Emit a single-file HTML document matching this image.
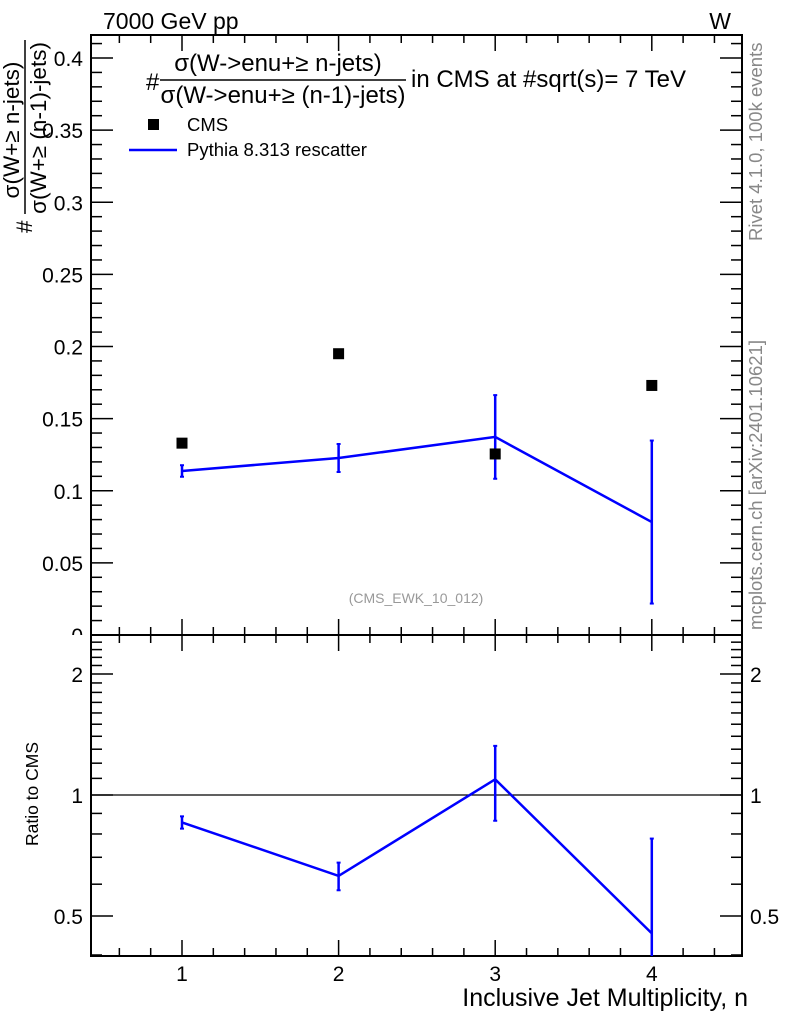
<!DOCTYPE html>
<html><head><meta charset="utf-8"><style>
html,body{margin:0;padding:0;background:#fff}
svg{display:block;font-family:"Liberation Sans",sans-serif}
</style></head><body>
<svg id="c" width="786" height="1024" viewBox="0 0 786 1024">
<defs><clipPath id="mainclip"><rect x="0" y="0" width="786" height="635"/></clipPath></defs>
<g>
<text x="103" y="29" font-size="23">7000 GeV pp</text>
<text x="731" y="29" font-size="23" text-anchor="end">W</text>
</g>
<g font-size="22.5">
<text transform="translate(32,233) rotate(-90)">#</text>
<text transform="translate(19,130) rotate(-90)" text-anchor="middle">σ(W+≥ n-jets)</text>
<line x1="25" y1="40" x2="25" y2="214" stroke="#000" stroke-width="1.5"/>
<text transform="translate(46,128) rotate(-90)" text-anchor="middle">σ(W+≥ (n-1)-jets)</text>
</g>
<g font-size="24">
<text x="146" y="90">#</text>
<text x="278" y="71" text-anchor="middle">σ(W-&gt;enu+≥ n-jets)</text>
<line x1="160" y1="80" x2="406" y2="80" stroke="#000" stroke-width="1.5"/>
<text x="283" y="103" text-anchor="middle">σ(W-&gt;enu+≥ (n-1)-jets)</text>
<text x="411" y="87">in CMS at #sqrt(s)= 7 TeV</text>
</g>
<g font-size="18.5">
<rect x="148" y="119" width="11" height="11" fill="#000"/>
<text x="187" y="131">CMS</text>
<line x1="129" y1="150" x2="177" y2="150" stroke="#00f" stroke-width="2.5"/>
<text x="187" y="156">Pythia 8.313 rescatter</text>
</g>
<text transform="translate(762,241) rotate(-90)" font-size="18.5" fill="#888">Rivet 4.1.0,  100k events</text>
<text transform="translate(762,630) rotate(-90)" font-size="18.5" fill="#888">mcplots.cern.ch [arXiv:2401.10621]</text>
<text x="416" y="603" font-size="14" fill="#999" text-anchor="middle">(CMS_EWK_10_012)</text>
<text transform="translate(38,794) rotate(-90)" font-size="17.5" text-anchor="middle">Ratio to CMS</text>
<text x="748" y="1006" font-size="25" text-anchor="end">Inclusive Jet Multiplicity, n</text>
<g id="g"></g>
</svg>
<script>
const categories=[1,2,3,4];
const cmsValues=[0.133,0.195,0.1255,0.173];
const mcValues=[0.1137,0.1227,0.1373,0.0783];
const mcErrors=[0.004,0.0097,0.029,0.0565];
const yTicks=[0,0.05,0.1,0.15,0.2,0.25,0.3,0.35,0.4];
const yTickLabels=["0","0.05","0.1","0.15","0.2","0.25","0.3","0.35","0.4"];
const ratioTicks=[0.5,1,2];
const ratioTickLabels=["0.5","1","2"];
const xTickLabels=["1","2","3","4"];

const L=91,R=742,T=35,MB=635,RB=956;
const X=v=>182+(v-1)*156.6;
const Y=v=>MB-v*1442.5;
const RY=v=>674-Math.log10(v/2)*402;
const NS="http://www.w3.org/2000/svg";
const g=document.getElementById('g');
function mk(t,a,p){const e=document.createElementNS(NS,t);for(const k in a)e.setAttribute(k,a[k]);(p||g).appendChild(e);return e;}
function ln(x1,y1,x2,y2,c,w){return mk('line',{x1,y1,x2,y2,stroke:c||'#000','stroke-width':w||1.5});}

let f1=mk('rect',{x:L,y:T,width:R-L,height:MB-T,fill:'none',stroke:'#000','stroke-width':2});


let f2=mk('rect',{x:L,y:MB,width:R-L,height:RB-MB,fill:'none',stroke:'#000','stroke-width':2});



for(let i=0;i<=41;i++){const v=i*0.01,y=Y(v);if(y<T)break;const maj=i%5==0;const l=maj?22:11;ln(L,y,L+l,y);ln(R,y,R-l,y);}
const lg=mk('g',{'clip-path':'url(#mainclip)'});
yTicks.forEach((v,i)=>{const t=mk('text',{x:L-8,y:Y(v)+8,'font-size':21,'text-anchor':'end'},lg);t.textContent=yTickLabels[i];

});
for(let i=4;i<=25;i++){const v=i/10,y=RY(v);if(y<MB||y>RB)continue;const maj=(i==5||i==10||i==20);const l=maj?22:11;ln(L,y,L+l,y);ln(R,y,R-l,y);}
ratioTicks.forEach((v,i)=>{const y=RY(v);const t=mk('text',{x:L-8,y:y+8,'font-size':21,'text-anchor':'end'});t.textContent=ratioTickLabels[i];


const t2=mk('text',{x:R+8,y:y+8,'font-size':21});t2.textContent=ratioTickLabels[i];

});
for(let i=0;i<30;i++){const v=0.6+i*0.2;const x=X(v);if(x<=L||x>=R)continue;const maj=Math.abs(v-Math.round(v))<1e-6;const l=maj?16:8;
ln(x,T,x,T+l);ln(x,MB,x,MB-l);ln(x,MB,x,MB+l);ln(x,RB,x,RB-l);}
categories.forEach((c,i)=>{const t=mk('text',{x:X(c),y:981,'font-size':21,'text-anchor':'middle'});t.textContent=xTickLabels[i];

});

let rl=ln(L,RY(1),R,RY(1),'#000',1.2);



let pts=categories.map((c,i)=>X(c)+','+Y(mcValues[i])).join(' ');
let pl=mk('polyline',{points:pts,fill:'none',stroke:'#00f','stroke-width':2.5});


categories.forEach((c,i)=>{const x=X(c),y1=Y(mcValues[i]+mcErrors[i]),y2=Y(mcValues[i]-mcErrors[i]);
const e=ln(x,y1,x,y2,'#00f',2.5);


ln(x-2,y1,x+2,y1,'#00f',2);ln(x-2,y2,x+2,y2,'#00f',2);});
categories.forEach((c,i)=>{const r=mk('rect',{x:X(c)-5.5,y:Y(cmsValues[i])-5.5,width:11,height:11,fill:'#000'});

});

const clip=v=>Math.max(MB,Math.min(RB,v));
let rp=categories.map((c,i)=>X(c)+','+RY(mcValues[i]/cmsValues[i])).join(' ');
let rpl=mk('polyline',{points:rp,fill:'none',stroke:'#00f','stroke-width':2.5});


categories.forEach((c,i)=>{const x=X(c),r=mcValues[i]/cmsValues[i],e=mcErrors[i]/cmsValues[i];
const lo=r-e;const y1=clip(RY(r+e)),y2=lo>0?clip(RY(lo)):RB;
const b=ln(x,y1,x,y2,'#00f',2.5);


ln(x-2,y1,x+2,y1,'#00f',2);if(y2<RB)ln(x-2,y2,x+2,y2,'#00f',2);});
</script>
</body></html>
